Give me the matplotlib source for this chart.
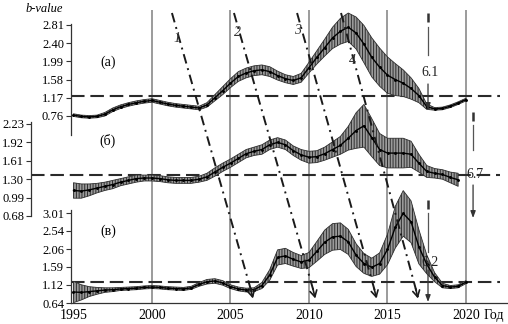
import matplotlib
matplotlib.use("Agg")
import matplotlib.pyplot as plt
import numpy as np

plt.rcParams['font.family'] = ['Liberation Serif', 'DejaVu Serif']
plt.rcParams['hatch.linewidth'] = 0.7

# ---------------- data ----------------
years_a = np.arange(1995.0, 2020.01, 0.5)
b_a = [0.78, 0.75, 0.74, 0.75, 0.80, 0.90, 0.97, 1.02, 1.06, 1.09,
       1.11, 1.07, 1.03, 1.00, 0.98, 0.96, 0.94, 1.01, 1.17, 1.33,
       1.50, 1.65, 1.73, 1.78, 1.80, 1.76, 1.67, 1.60, 1.56, 1.62,
       1.85, 2.08, 2.30, 2.52, 2.67, 2.76, 2.63, 2.38, 2.08, 1.86,
       1.68, 1.58, 1.50, 1.38, 1.22, 0.97, 0.92, 0.93, 0.98, 1.05, 1.13]
err_a = [0.03, 0.03, 0.03, 0.03, 0.04, 0.04, 0.04, 0.04, 0.04, 0.04,
         0.04, 0.04, 0.04, 0.04, 0.04, 0.04, 0.04, 0.05, 0.07, 0.09,
         0.10, 0.11, 0.11, 0.11, 0.11, 0.11, 0.10, 0.09, 0.09, 0.10,
         0.12, 0.15, 0.19, 0.24, 0.29, 0.32, 0.36, 0.42, 0.44, 0.43,
         0.41, 0.36, 0.30, 0.24, 0.16, 0.06, 0.03, 0.03, 0.03, 0.03, 0.03]

years_b = np.arange(1995.0, 2019.51, 0.5)
b_b = [1.11, 1.10, 1.12, 1.15, 1.18, 1.21, 1.25, 1.28, 1.31, 1.32,
       1.32, 1.31, 1.29, 1.28, 1.28, 1.28, 1.30, 1.34, 1.42, 1.50,
       1.57, 1.65, 1.73, 1.77, 1.80, 1.88, 1.92, 1.88, 1.78, 1.71,
       1.67, 1.68, 1.73, 1.80, 1.87, 1.99, 2.12, 2.20, 2.00, 1.80,
       1.74, 1.74, 1.74, 1.72, 1.57, 1.43, 1.40, 1.38, 1.33, 1.29]
err_b = [0.13, 0.12, 0.10, 0.08, 0.07, 0.07, 0.06, 0.06, 0.06, 0.05,
         0.05, 0.05, 0.05, 0.05, 0.05, 0.05, 0.05, 0.06, 0.07, 0.07,
         0.07, 0.07, 0.07, 0.07, 0.08, 0.08, 0.08, 0.08, 0.08, 0.09,
         0.10, 0.10, 0.11, 0.13, 0.15, 0.20, 0.30, 0.36, 0.32, 0.27,
         0.25, 0.25, 0.25, 0.22, 0.15, 0.10, 0.08, 0.08, 0.09, 0.11]

years_c = np.arange(1995.0, 2020.01, 0.5)
b_c = [0.93, 0.92, 0.94, 0.96, 0.98, 0.99, 1.01, 1.02, 1.03, 1.05,
       1.06, 1.05, 1.03, 1.02, 1.01, 1.04, 1.13, 1.20, 1.22, 1.17,
       1.07, 1.01, 0.98, 0.99, 1.10, 1.38, 1.84, 1.88, 1.79, 1.72,
       1.77, 2.00, 2.24, 2.38, 2.40, 2.25, 1.90, 1.68, 1.58, 1.68,
       2.05, 2.64, 3.00, 2.78, 2.12, 1.66, 1.32, 1.10, 1.06, 1.08, 1.19]
err_c = [0.28, 0.20, 0.13, 0.09, 0.06, 0.05, 0.04, 0.04, 0.04, 0.04,
         0.04, 0.04, 0.04, 0.04, 0.04, 0.04, 0.05, 0.06, 0.06, 0.06,
         0.05, 0.05, 0.05, 0.05, 0.08, 0.14, 0.20, 0.20, 0.18, 0.17,
         0.20, 0.26, 0.32, 0.35, 0.35, 0.33, 0.30, 0.26, 0.24, 0.28,
         0.40, 0.55, 0.60, 0.55, 0.45, 0.25, 0.12, 0.06, 0.04, 0.04, 0.04]

ticks_a = [0.76, 1.17, 1.58, 1.99, 2.40, 2.81]
ticks_b = [0.68, 0.99, 1.30, 1.61, 1.92, 2.23]
ticks_c = [0.64, 1.12, 1.59, 2.06, 2.54, 3.01]
level_a, level_b, level_c = 1.21, 1.37, 1.19

xticks = [1995, 2000, 2005, 2010, 2015, 2020]
vlines = [2000, 2005, 2010, 2015, 2020]

line_labels = ['1', '2', '3', '4']
line_start = [2001.27, 2005.22, 2009.24, 2012.04]
line_end = [2006.43, 2010.40, 2014.30, 2016.94]

event_mag = ['6.1', '6.7', '6.2']
event_year = [2017.58, 2020.45, 2017.58]

# ---------------- layout helpers ----------------
W, H = 508, 324
fig = plt.figure(figsize=(W / 100, H / 100), dpi=100)
X2000, PX_PER_YR = 152.0, 15.7
RIGHT = 507
BASE_TOP, BASE_BOT = 10, 303


def px2yr(x):
    return 2000 + (x - X2000) / PX_PER_YR


def rect(l, r, t, b):
    return [l / W, (H - b) / H, (r - l) / W, (b - t) / H]


def fy(y):
    return (BASE_BOT - y) / (BASE_BOT - BASE_TOP)


SPINE = '#333333'

# base axes: year grid + x axis
gax = fig.add_axes(rect(71, RIGHT, BASE_TOP, BASE_BOT), zorder=0)
gax.set_xlim(px2yr(71), px2yr(RIGHT))
gax.set_ylim(0, 1)
gax.patch.set_alpha(0)
for s in ['top', 'right', 'left']:
    gax.spines[s].set_visible(False)
gax.spines['bottom'].set_color(SPINE)
gax.spines['bottom'].set_linewidth(0.9)
gax.set_yticks([])
gax.set_xticks(xticks)
gax.tick_params(axis='x', length=0, labelsize=10, pad=4)
for v in vlines:
    gax.axvline(v, color='#8a8a8a', lw=1.2, zorder=0)


def panel(left, top, bottom, ticks, ttop, tbot, z):
    ax = fig.add_axes(rect(left, RIGHT, top, bottom), zorder=z)
    vpp = (ticks[-1] - ticks[0]) / (tbot - ttop)
    ax.set_ylim(ticks[0] - (bottom - tbot) * vpp, ticks[-1] + (ttop - top) * vpp)
    ax.set_xlim(px2yr(left), px2yr(RIGHT))
    ax.patch.set_alpha(0)
    for s in ['top', 'right', 'bottom']:
        ax.spines[s].set_visible(False)
    ax.spines['left'].set_color(SPINE)
    ax.spines['left'].set_linewidth(0.9)
    ax.set_xticks([])
    ax.set_yticks(ticks)
    ax.set_yticklabels(['%.2f' % t for t in ticks])
    ax.tick_params(axis='y', direction='out', length=3.5, width=0.8,
                   color=SPINE, labelsize=9, pad=1.5)
    return ax


ax_a = panel(71, 24, 135, ticks_a, 25, 116, 2)
ax_b = panel(31, 122, 216, ticks_b, 124, 216, 3)
ax_c = panel(71, 210, 303, ticks_c, 213, 303, 4)


def curve(ax, yrs, vals, errs, level, x0):
    vals = np.array(vals)
    errs = np.array(errs)
    ax.fill_between(yrs, vals - errs, vals + errs, facecolor='#9a9a9a',
                    edgecolor='#2e2e2e', hatch='||||||', linewidth=0.6,
                    clip_on=False, zorder=2)
    ax.plot(yrs, vals, color='black', lw=1.0, clip_on=False, zorder=3)
    ax.plot(yrs, vals, linestyle='none', marker='.', ms=2.2, color='black',
            clip_on=False, zorder=3)
    ax.plot([x0, px2yr(500)], [level, level], color='#2a2a2a', lw=1.5,
            linestyle=(0, (6.5, 2.8)), clip_on=False, zorder=1)


curve(ax_a, years_a, b_a, err_a, level_a, px2yr(71))
curve(ax_b, years_b, b_b, err_b, level_b, px2yr(31))
curve(ax_c, years_c, b_c, err_c, level_c, px2yr(71))

# panel labels
ax_a.text(px2yr(108), 1.97, '(a)', fontsize=10, ha='center', va='center')
ax_b.text(px2yr(108), 1.94, '(б)', fontsize=10, ha='center', va='center')
ax_c.text(px2yr(108), 2.54, '(в)', fontsize=10, ha='center', va='center')

fig.text(44 / W, 1 - 9 / H, 'b-value', fontsize=9, style='italic',
         ha='center', va='center')
fig.text(494 / W, 1 - 316 / H, 'Год', fontsize=10, ha='center', va='center')

# overlay: forecast lines and event markers
oax = fig.add_axes(rect(71, RIGHT, BASE_TOP, BASE_BOT), zorder=10)
oax.set_xlim(px2yr(71), px2yr(RIGHT))
oax.set_ylim(0, 1)
oax.axis('off')
oax.patch.set_alpha(0)

y_top, y_bot = fy(13), fy(297)
lab_pos = [(177, 38), (238, 33), (298, 30), (352, 61)]
for lab, s, e, (lx, ly) in zip(line_labels, line_start, line_end, lab_pos):
    oax.plot([s, e], [y_top, y_bot], color='#1a1a1a', lw=1.4,
             linestyle=(0, (5, 2.5, 1, 2.5)), clip_on=False)
    dx = (e - s) * 0.03
    dy = (y_top - y_bot) * 0.03
    oax.annotate('', xy=(e, y_bot - 0.005), xytext=(e - dx, y_bot + dy),
                 arrowprops=dict(arrowstyle='->,head_length=0.45,head_width=0.25',
                                 color='#1a1a1a', lw=1.2, shrinkA=0, shrinkB=0))
    oax.text(px2yr(lx), fy(ly), lab, fontsize=10, style='italic',
             ha='center', va='center', color='#333333')

ev_geom = [  # (thick top, thick bot, thin top, thin bot, label y, arrow top, arrow tip)
    (13, 22, 27, 55, 73, 84, 110),
    (112, 121, 125, 150, 175, 185, 218),
    (200, 209, 213, 252, 262, 270, 302),
]
for mag, yr, g in zip(event_mag, event_year, ev_geom):
    oax.plot([yr, yr], [fy(g[0]), fy(g[1])], color='#333333', lw=1.8,
             solid_capstyle='butt', clip_on=False)
    oax.plot([yr, yr], [fy(g[2]), fy(g[3])], color='#555555', lw=0.9,
             clip_on=False)
    oax.text(yr + 0.15, fy(g[4]), mag, fontsize=10, ha='center', va='center',
             color='#222222')
    oax.annotate('', xy=(yr, fy(g[6])), xytext=(yr, fy(g[5])),
                 arrowprops=dict(arrowstyle='-|>,head_length=0.4,head_width=0.15',
                                 color='#333333', lw=0.9, shrinkA=0, shrinkB=0))

fig.savefig('out.png', dpi=100)
